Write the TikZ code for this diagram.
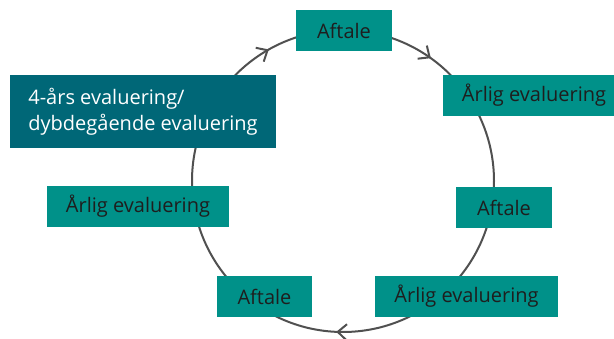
\documentclass[tikz,border=0pt]{standalone}
\usepackage{fontspec}
\setmainfont{Open Sans}
\definecolor{tealbox}{HTML}{009189}
\definecolor{darkbox}{HTML}{006777}
\definecolor{ringgray}{HTML}{505050}
\definecolor{txtdark}{HTML}{1E1E1E}
\tikzset{
  lightbox/.style={fill=tealbox, draw=none, text=txtdark, inner sep=0pt, minimum height=41pt,
    font=\fontsize{20pt}{24pt}\selectfont},
  deepbox/.style={fill=darkbox, draw=none, text=white, inner sep=0pt, align=left,
    minimum width=266pt, minimum height=73pt, font=\fontsize{20pt}{26pt}\selectfont},
  ring/.style={draw=ringgray, line width=2pt},
  chev/.pic={\draw[ring, line join=miter] (-9,8) -- (0,0) -- (-9,-8);}
}
\begin{document}
\begin{tikzpicture}[x=1pt,y=1pt]
\useasboundingbox (0,0) rectangle (614,-339);
\clip (0,0) rectangle (614,-339);
\coordinate (c) at (343,-181);
\draw[ring] (c) circle[radius=151];
\path (c) ++(120:151) pic[rotate=30] {chev};
\path (c) ++(55:151) pic[rotate=-35] {chev};
\path (c) ++(-92:151) pic[rotate=-182] {chev};
\node[lightbox, minimum width=96pt] (aft1) at (344,-30.5) {Aftale};
\node[lightbox, minimum width=182pt] (arl1) at (534,-95.5) {Årlig evaluering};
\node[deepbox] (four) at (143,-111.5) {4-års evaluering/\\dybdegående evaluering};
\node[lightbox, minimum width=182pt] (arl2) at (138,-206.5) {Årlig evaluering};
\node[lightbox, minimum width=96pt] (aft2) at (504,-207.5) {Aftale};
\node[lightbox, minimum width=95pt] (aft3) at (264.5,-296.5) {Aftale};
\node[lightbox, minimum width=183pt] (arl3) at (466.5,-296.5) {Årlig evaluering};
\end{tikzpicture}
\end{document}
